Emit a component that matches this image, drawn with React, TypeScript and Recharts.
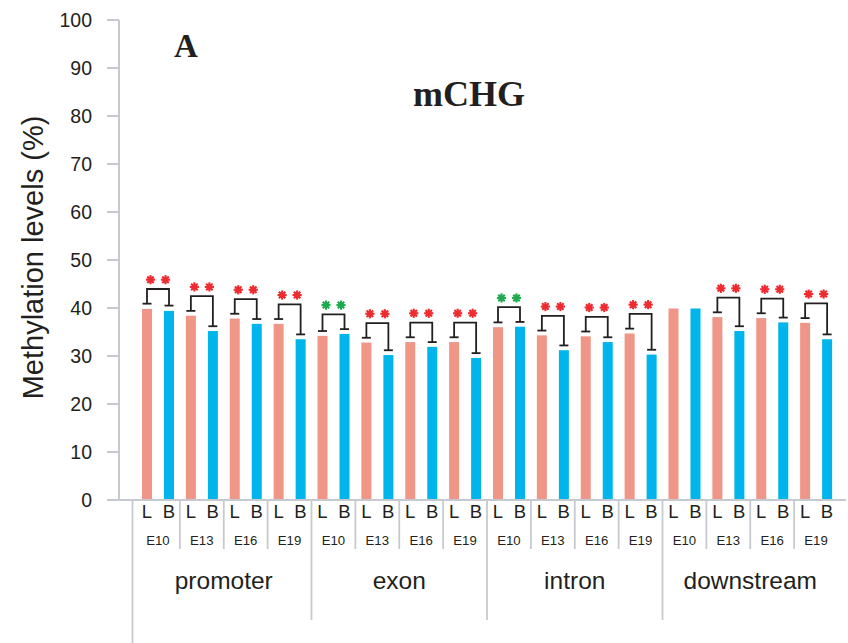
import React from 'react';
import { BarChart, Bar, XAxis, YAxis } from 'recharts';

const regions = ['promoter', 'exon', 'intron', 'downstream'];
const stages = ['E10', 'E13', 'E16', 'E19'];
const lValues = [39.8, 38.4, 37.8, 36.7, 34.2, 32.8, 32.9, 32.9, 36.0, 34.3, 34.1, 34.7, 39.9, 38.1, 37.9, 36.9];
const bValues = [39.4, 35.2, 36.7, 33.5, 34.6, 30.2, 31.9, 29.6, 36.1, 31.2, 32.9, 30.3, 39.9, 35.2, 37.0, 33.5];
const lErrors = [1.1, 1.0, 1.0, 1.0, 1.0, 1.0, 1.0, 1.0, 1.0, 1.0, 1.0, 1.0, 0, 1.0, 1.0, 1.0];
const bErrors = [1.1, 1.0, 1.0, 1.0, 1.0, 1.0, 1.0, 1.0, 1.0, 1.0, 1.0, 1.0, 0, 1.0, 1.0, 1.0];
const significance: (string | null)[] = [
  'red', 'red', 'red', 'red',
  'green', 'red', 'red', 'red',
  'green', 'red', 'red', 'red',
  null, 'red', 'red', 'red',
];
const yTicks = [0, 10, 20, 30, 40, 50, 60, 70, 80, 90, 100];

const data = lValues.map((l, i) => ({
  key: `${regions[Math.floor(i / 4)]}-${stages[i % 4]}`,
  region: regions[Math.floor(i / 4)],
  stage: stages[i % 4],
  L: l,
  B: bValues[i],
  lErr: lErrors[i],
  bErr: bErrors[i],
  sig: significance[i],
}));

const INK = '#231f20';
const AXIS = '#c6cad0';
const SALMON = '#ef9687';
const BLUE = '#00b5ec';
const STAR_COLORS: Record<string, string> = { red: '#ee2b30', green: '#1eaa4e' };
const SANS = '"Liberation Sans", Arial, sans-serif';
const SERIF = '"Liberation Serif", "Times New Roman", serif';
const BAR_SIZE = 10;
const BAR_GAP = 12;

function Star({ cx, cy, color }: { cx: number; cy: number; color: string }) {
  const r = 4.6;
  const lines = [0, 45, 90, 135].map((a) => {
    const rad = (a * Math.PI) / 180;
    const dx = Math.cos(rad) * r;
    const dy = Math.sin(rad) * r;
    return <line key={a} x1={cx - dx} y1={cy - dy} x2={cx + dx} y2={cy + dy} stroke={color} strokeWidth={2.1} />;
  });
  return (
    <g>
      {lines}
      <circle cx={cx} cy={cy} r={2.9} fill={color} />
    </g>
  );
}

function LShape(props: any) {
  const { x, y, width, height, payload } = props;
  const base = y + height;
  const ppu = height / payload.L;
  const cx = x + width / 2;
  const cxB = cx + BAR_SIZE + BAR_GAP;
  const parts: any[] = [<rect key="r" x={x} y={y} width={width} height={height} fill={SALMON} />];
  if (payload.sig) {
    const capL = base - (payload.L + payload.lErr) * ppu;
    const capB = base - (payload.B + payload.bErr) * ppu;
    const top = Math.min(capL, capB) - 14.7;
    const sw = 1.8;
    parts.push(
      <g key="br" stroke={INK} strokeWidth={sw} fill="none">
        <line x1={cx - 4.5} x2={cx + 4.5} y1={capL} y2={capL} />
        <line x1={cxB - 4.5} x2={cxB + 4.5} y1={capB} y2={capB} />
        <polyline points={`${cx},${capL} ${cx},${top} ${cxB},${top} ${cxB},${capB}`} />
      </g>
    );
    const c = STAR_COLORS[payload.sig];
    parts.push(<Star key="s1" cx={cx + 3.5} cy={top - 9.3} color={c} />);
    parts.push(<Star key="s2" cx={cxB - 3.5} cy={top - 9.3} color={c} />);
  }
  return <g>{parts}</g>;
}

function BShape(props: any) {
  const { x, y, width, height } = props;
  return <rect x={x} y={y} width={width} height={height} fill={BLUE} />;
}

function XTick(props: any) {
  const { x, y, payload, index } = props;
  const half = payload && typeof payload.offset === 'number' && payload.offset > 0 ? payload.offset : 21.94;
  const i = typeof index === 'number' ? index : payload.index;
  const row = data[i] || {};
  const sepX = x - half;
  let sepLen = 49;
  let sepShift = 0;
  if (i % 4 === 0) sepLen = 120;
  if (i === 0) {
    sepLen = 143;
    sepShift = -3.5;
  }
  return (
    <g>
      <line x1={sepX + sepShift} x2={sepX + sepShift} y1={y} y2={y + sepLen} stroke={AXIS} strokeWidth={1.8} />
      <text x={x - half / 2} y={y + 17.8} textAnchor="middle" fontSize={18.5} fontFamily={SANS} fill={INK}>L</text>
      <text x={x + half / 2} y={y + 17.8} textAnchor="middle" fontSize={18.5} fontFamily={SANS} fill={INK}>B</text>
      <text x={x} y={y + 44.5} textAnchor="middle" fontSize={13.2} fontFamily={SANS} fill={INK}>{row.stage}</text>
      {i % 4 === 1 ? (
        <text x={x + half} y={y + 89} textAnchor="middle" fontSize={24.5} fontFamily={SANS} fill={INK}>{row.region}</text>
      ) : null}
    </g>
  );
}

export default function App() {
  return (
    <div style={{ position: 'relative', width: 848, height: 643, background: '#fff' }}>
      <style>{'body{margin:0;}'}</style>
      <BarChart
        width={848}
        height={643}
        data={data}
        margin={{ top: 20, right: 2, bottom: 0, left: 0 }}
        barSize={BAR_SIZE}
        barGap={BAR_GAP}
      >
        <XAxis
          dataKey="key"
          interval={0}
          height={143}
          tickLine={false}
          tickSize={0}
          tickMargin={0}
          padding={{ left: 17, right: 8 }}
          axisLine={{ stroke: AXIS, strokeWidth: 2 }}
          tick={<XTick />}
        />
        <YAxis
          domain={[0, 100]}
          ticks={yTicks}
          interval={0}
          width={119}
          tickSize={12}
          tickMargin={15}
          axisLine={{ stroke: AXIS, strokeWidth: 2 }}
          tickLine={{ stroke: AXIS, strokeWidth: 2 }}
          tick={{ fill: INK, fontSize: 19.5, fontFamily: SANS }}
        />
        <Bar dataKey="L" isAnimationActive={false} shape={<LShape />} />
        <Bar dataKey="B" isAnimationActive={false} shape={<BShape />} />
      </BarChart>
      <svg width={848} height={643} style={{ position: 'absolute', left: 0, top: 0, pointerEvents: 'none' }}>
        <text x={174} y={57} fontSize={33} fontWeight="bold" fontFamily={SERIF} fill={INK}>A</text>
        <text x={413} y={106} fontSize={36} fontWeight="bold" fontFamily={SERIF} fill={INK}>mCHG</text>
        <text
          x={42.5}
          y={257.5}
          transform="rotate(-90, 42.5, 257.5)"
          textAnchor="middle"
          fontSize={29}
          fontFamily={SANS}
          fill={INK}
        >
          Methylation levels (%)
        </text>
      </svg>
    </div>
  );
}
